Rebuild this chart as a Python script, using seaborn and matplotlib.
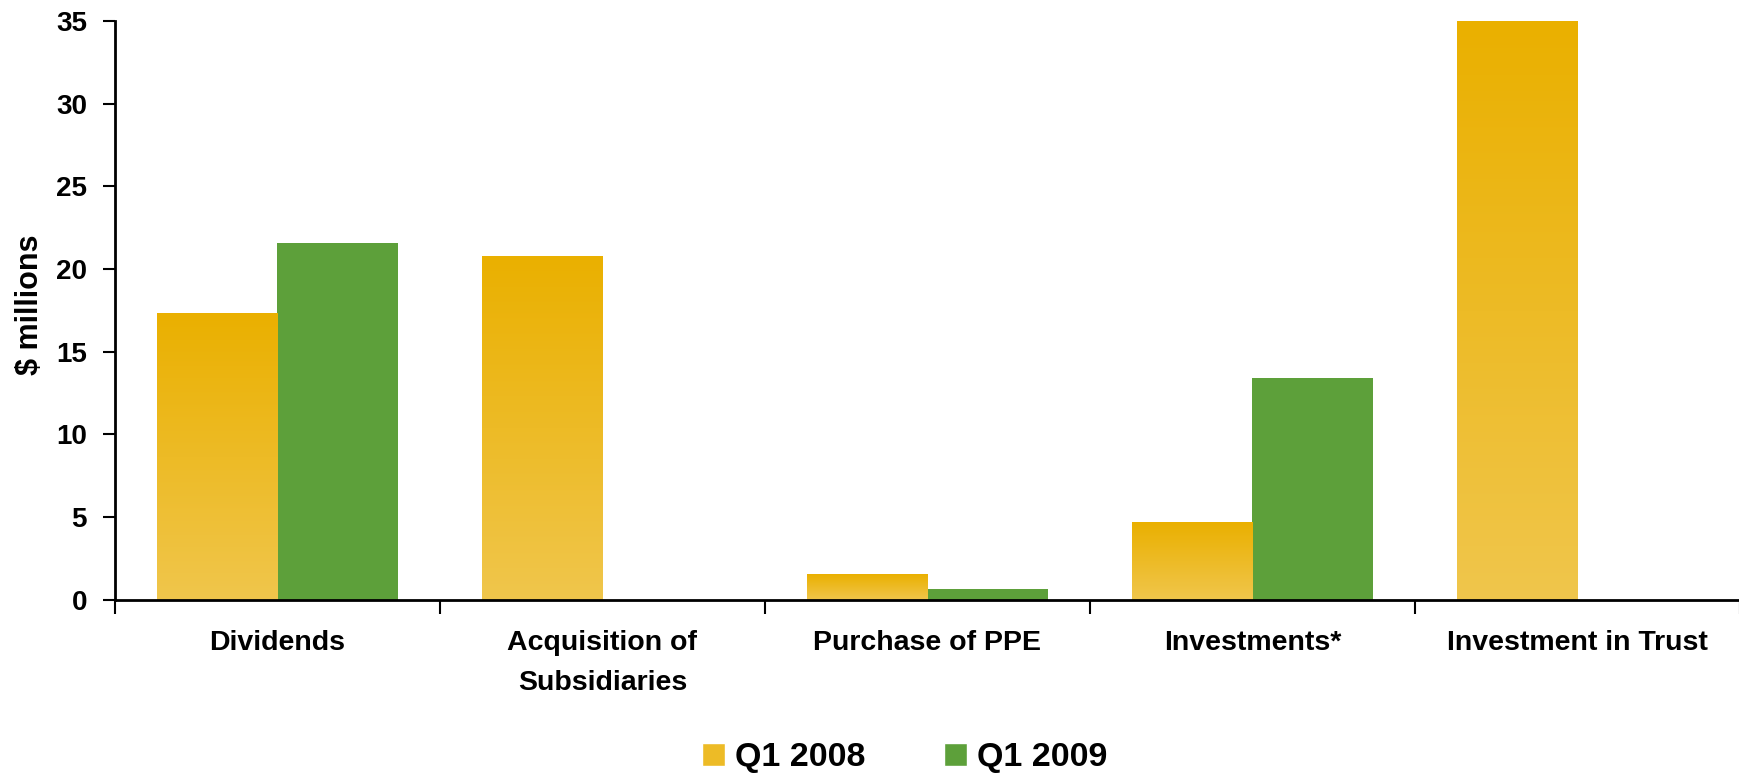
import numpy as np
import pandas as pd
import matplotlib
matplotlib.use("Agg")
import matplotlib.pyplot as plt
import seaborn as sns
from matplotlib.patches import Patch
from matplotlib.colors import LinearSegmentedColormap

# data ($ millions)
categories = ["Dividends", "Acquisition of\nSubsidiaries", "Purchase of PPE",
              "Investments*", "Investment in Trust"]
periods = ["Q1 2008", "Q1 2009"]
q1_2008 = [17.35, 20.8, 1.55, 4.7, 35.0]
q1_2009 = [21.6, 0.0, 0.65, 13.4, 0.0]

df = pd.DataFrame({
    "category": categories * 2,
    "value": q1_2008 + q1_2009,
    "period": [periods[0]] * len(categories) + [periods[1]] * len(categories),
})

yellow_top = "#EAB000"
yellow_bottom = "#F0C64C"
yellow_mid = "#EDBB26"
green = "#5DA03A"

sns.set_style("white")
plt.rcParams["font.family"] = ["Liberation Sans", "DejaVu Sans"]
plt.rcParams["font.weight"] = "bold"
plt.rcParams["text.color"] = "black"
plt.rcParams["xtick.color"] = "black"
plt.rcParams["ytick.color"] = "black"
plt.rcParams["axes.labelcolor"] = "black"

fig = plt.figure(figsize=(17.4, 7.75), dpi=100)
ax = fig.add_axes([0.066, 0.226, 0.934, 0.747])

sns.barplot(data=df, x="category", y="value", hue="period", order=categories,
            hue_order=periods, palette=[yellow_mid, green], width=0.743,
            saturation=1, linewidth=0, legend=False, ax=ax)

# vertical gradient on the Q1 2008 bars
cmap = LinearSegmentedColormap.from_list("gold", [yellow_bottom, yellow_top])
grad = np.linspace(0, 1, 256).reshape(-1, 1)
for bar in ax.containers[0]:
    h = bar.get_height()
    if h <= 0:
        continue
    x0, w = bar.get_x(), bar.get_width()
    im = ax.imshow(grad, cmap=cmap, origin="lower", aspect="auto",
                   extent=[x0, x0 + w, 0, h], zorder=bar.get_zorder() + 0.1)
    im.set_clip_path(bar)

ax.set_xlim(-0.5, len(categories) - 0.5)
ax.set_ylim(0, 35)
ax.set_yticks(range(0, 36, 5))
ax.tick_params(axis="y", labelsize=20, length=9, width=1.5, direction="out",
               left=True, pad=11)

# category boundary ticks, labels on centre minor ticks
ax.set_xticks(np.arange(-0.5, len(categories), 1.0))
ax.set_xticklabels([])
ax.set_xticks(range(len(categories)), minor=True)
ax.set_xticklabels(categories, minor=True, fontsize=20.5, fontweight="bold")
ax.tick_params(axis="x", which="major", length=10, width=1.5, direction="out",
               bottom=True)
ax.tick_params(axis="x", which="minor", length=0, pad=22)
for lbl in ax.get_xticklabels(minor=True):
    lbl.set_linespacing(1.68)
    lbl.set_verticalalignment("top")

ax.set_xlabel("")
ax.set_ylabel("$ millions", fontsize=22, fontweight="bold")
ax.yaxis.set_label_coords(-0.043, 0.51)

sns.despine(ax=ax)
for side in ["left", "bottom"]:
    ax.spines[side].set_color("black")
    ax.spines[side].set_linewidth(2)

handles = [Patch(facecolor=yellow_mid, label=periods[0]),
           Patch(facecolor=green, label=periods[1])]
fig.legend(handles=handles, loc="center", bbox_to_anchor=(0.52, 0.022), ncol=2,
           frameon=False, prop={"size": 24.5, "weight": "bold"},
           handlelength=0.68, handleheight=0.68, handletextpad=0.3,
           columnspacing=2.3)

fig.savefig("out.png", dpi=100)
